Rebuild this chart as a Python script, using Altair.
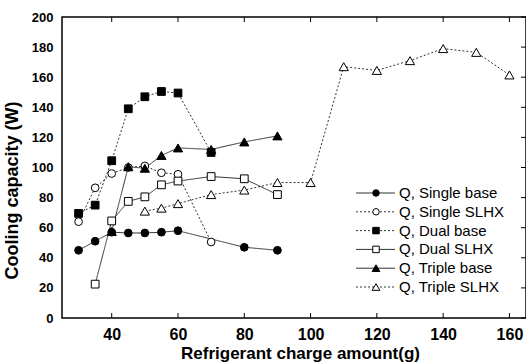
import altair as alt
import pandas as pd

# ---- data ----
series_names = ["Q, Single base", "Q, Single SLHX", "Q, Dual base",
                "Q, Dual SLHX", "Q, Triple base", "Q, Triple SLHX"]

single_base_x = [30, 35, 40, 45, 50, 55, 60, 80, 90]
single_base_y = [45, 51, 57, 56.5, 56.5, 57, 58, 47, 45]

single_slhx_x = [30, 35, 40, 45, 50, 55, 60, 70]
single_slhx_y = [64, 86.5, 96, 100, 101, 96.5, 95.5, 50.5]

dual_base_x = [30, 35, 40, 45, 50, 55, 60, 70]
dual_base_y = [69.5, 75, 104.5, 139, 147, 150.5, 149.5, 110]

dual_slhx_x = [35, 40, 45, 50, 55, 60, 70, 80, 90]
dual_slhx_y = [22.5, 64.5, 77.5, 80.5, 88.5, 91, 94, 92.5, 82]

triple_base_x = [40, 45, 50, 55, 60, 70, 80, 90]
triple_base_y = [57.5, 100.5, 99.5, 108, 113, 112, 117, 121]

triple_slhx_x = [50, 55, 60, 70, 80, 90, 100, 110, 120, 130, 140, 150, 160]
triple_slhx_y = [71, 73, 76, 82, 85, 90, 90, 167, 164.5, 171, 179, 176.5, 161.5]

x_ticks = [40, 60, 80, 100, 120, 140, 160]
y_ticks = [0, 20, 40, 60, 80, 100, 120, 140, 160, 180, 200]

x_title = "Refrigerant charge amount(g)"
y_title = "Cooling capacity (W)"

# ---- styling ----
W, H = 464, 301
FONT = "Liberation Sans"
series_x = [single_base_x, single_slhx_x, dual_base_x, dual_slhx_x, triple_base_x, triple_slhx_x]
series_y = [single_base_y, single_slhx_y, dual_base_y, dual_slhx_y, triple_base_y, triple_slhx_y]
shapes = ["circle", "circle", "square", "square", "triangle-up", "triangle-up"]
filled = [True, False, True, False, True, False]
dashes = [[1, 0], [2, 2], [2, 2], [1, 0], [1, 0], [2, 2]]
sizes = [60, 60, 60, 60, 85, 85]

xs = alt.Scale(domain=[25, 165], nice=False, zero=False)
ys = alt.Scale(domain=[0, 200], nice=False, zero=False)

xaxis = alt.Axis(values=x_ticks, title=x_title, grid=False, ticks=False, domain=False,
                 labelOverlap=False,
                 labelFont=FONT, labelFontSize=16, labelFontWeight="bold", labelColor="black",
                 labelPadding=8, titleFont=FONT, titleFontSize=17, titleFontWeight="bold",
                 titleColor="black", titleX=238, titleY=40, titleBaseline="alphabetic",
                 titleAnchor="middle", titleAlign="center")
yaxis = alt.Axis(values=y_ticks, title=y_title, grid=False, ticks=False, domain=False,
                 labelOverlap=False,
                 labelFont=FONT, labelFontSize=13, labelFontWeight="bold", labelColor="black",
                 labelPadding=9, titleFont=FONT, titleFontSize=18, titleFontWeight="bold",
                 titleColor="black", titleX=-45, titleY=173, titleBaseline="alphabetic",
                 titleAngle=-90, titleAlign="center")


def X(field):
    return alt.X(field, scale=xs, axis=xaxis)


def Y(field):
    return alt.Y(field, scale=ys, axis=yaxis)


layers = []
for i, name in enumerate(series_names):
    df = pd.DataFrame({"x": series_x[i], "y": series_y[i]})
    layers.append(
        alt.Chart(df).mark_line(color="#333333", strokeWidth=1, strokeDash=dashes[i]).encode(
            x=X("x:Q"), y=Y("y:Q"))
    )
for i, name in enumerate(series_names):
    df = pd.DataFrame({"x": series_x[i], "y": series_y[i]})
    layers.append(
        alt.Chart(df).mark_point(shape=shapes[i], size=sizes[i], filled=True,
                                 fill="black" if filled[i] else "white",
                                 stroke="black", strokeWidth=1, opacity=1).encode(
            x=X("x:Q"), y=Y("y:Q"))
    )

# inward tick marks
xt = pd.DataFrame({"x": x_ticks})
yt = pd.DataFrame({"y": y_ticks})
layers.append(alt.Chart(xt).mark_rule(color="black", strokeWidth=1).encode(
    x=X("x:Q"), y=alt.value(H), y2=alt.value(H - 5)))
layers.append(alt.Chart(xt).mark_rule(color="black", strokeWidth=1).encode(
    x=X("x:Q"), y=alt.value(0), y2=alt.value(5)))
layers.append(alt.Chart(yt).mark_rule(color="black", strokeWidth=1).encode(
    y=Y("y:Q"), x=alt.value(W), x2=alt.value(W - 5)))

# manual legend (line through marker)
leg_y0, leg_dy = 176, 18.8
for i, name in enumerate(series_names):
    py = leg_y0 + i * leg_dy
    d = pd.DataFrame({"label": [name]})
    base = alt.Chart(d)
    layers.append(base.mark_rule(color="#333333", strokeWidth=1, strokeDash=dashes[i]).encode(
        x=alt.value(294), x2=alt.value(333), y=alt.value(py)))
    layers.append(base.mark_point(shape=shapes[i], size=sizes[i] * 0.7, filled=True,
                                  fill="black" if filled[i] else "white",
                                  stroke="black", strokeWidth=1, opacity=1).encode(
        x=alt.value(314), y=alt.value(py)))
    layers.append(base.mark_text(align="left", baseline="middle", font=FONT, fontSize=15,
                                 color="black").encode(
        x=alt.value(337), y=alt.value(py), text="label:N"))

chart = alt.layer(*layers).properties(
    width=W, height=H,
    autosize=alt.AutoSizeParams(type="none"),
    padding={"left": 62, "top": 17, "right": 0, "bottom": 46},
    background="white",
).configure_view(stroke="black", strokeWidth=1.5)

chart.save("out.html", embed_options={"renderer": "svg", "actions": False})
